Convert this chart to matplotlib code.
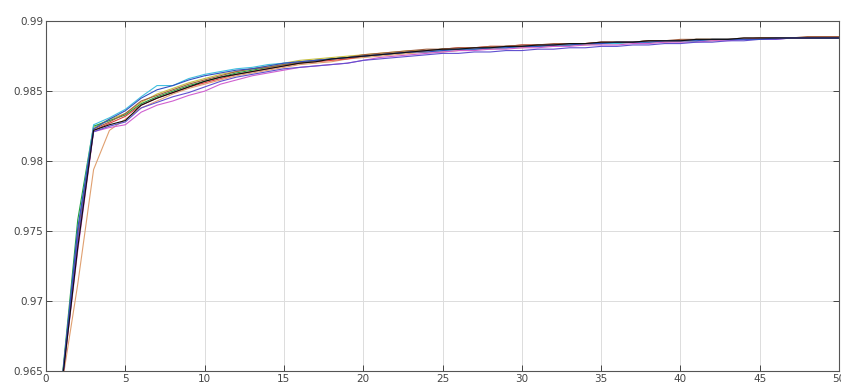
import numpy as np
import matplotlib.pyplot as plt

# accuracy per run, iteration 1..50
run_blue = [0.9641, 0.9752, 0.9823, 0.9830, 0.9836, 0.9845, 0.9851, 0.9854, 0.9858, 0.9861,
            0.9863, 0.9865, 0.9866, 0.9868, 0.9870, 0.9871, 0.9872, 0.9873, 0.9874, 0.9875,
            0.9876, 0.9877, 0.9878, 0.9878, 0.9879, 0.9880, 0.9880, 0.9881, 0.9881, 0.9882,
            0.9882, 0.9883, 0.9883, 0.9884, 0.9884, 0.9885, 0.9885, 0.9885, 0.9886, 0.9886,
            0.9886, 0.9887, 0.9887, 0.9887, 0.9887, 0.9888, 0.9888, 0.9888, 0.9888, 0.9888]
run_green = [0.9643, 0.9758, 0.9825, 0.9829, 0.9833, 0.9841, 0.9846, 0.9850, 0.9854, 0.9857,
             0.9860, 0.9863, 0.9865, 0.9867, 0.9869, 0.9870, 0.9872, 0.9873, 0.9874, 0.9875,
             0.9876, 0.9877, 0.9878, 0.9879, 0.9880, 0.9880, 0.9881, 0.9881, 0.9882, 0.9882,
             0.9883, 0.9883, 0.9884, 0.9884, 0.9884, 0.9885, 0.9885, 0.9886, 0.9886, 0.9886,
             0.9887, 0.9887, 0.9887, 0.9887, 0.9888, 0.9888, 0.9888, 0.9888, 0.9888, 0.9888]
run_red = [0.9640, 0.9740, 0.9822, 0.9827, 0.9832, 0.9840, 0.9845, 0.9849, 0.9853, 0.9856,
           0.9859, 0.9862, 0.9864, 0.9866, 0.9868, 0.9870, 0.9871, 0.9872, 0.9873, 0.9875,
           0.9876, 0.9877, 0.9878, 0.9879, 0.9880, 0.9881, 0.9881, 0.9882, 0.9882, 0.9883,
           0.9883, 0.9883, 0.9884, 0.9884, 0.9885, 0.9885, 0.9885, 0.9886, 0.9886, 0.9886,
           0.9887, 0.9887, 0.9887, 0.9887, 0.9888, 0.9888, 0.9888, 0.9888, 0.9889, 0.9889]
run_cyan = [0.9642, 0.9750, 0.9826, 0.9831, 0.9837, 0.9846, 0.9854, 0.9854, 0.9859, 0.9862,
            0.9864, 0.9866, 0.9867, 0.9869, 0.9870, 0.9871, 0.9872, 0.9873, 0.9874, 0.9875,
            0.9876, 0.9877, 0.9878, 0.9879, 0.9879, 0.9880, 0.9880, 0.9881, 0.9881, 0.9882,
            0.9882, 0.9883, 0.9883, 0.9884, 0.9884, 0.9884, 0.9885, 0.9885, 0.9886, 0.9886,
            0.9886, 0.9887, 0.9887, 0.9887, 0.9887, 0.9888, 0.9888, 0.9888, 0.9888, 0.9888]
run_magenta = [0.9640, 0.9736, 0.9821, 0.9824, 0.9826, 0.9835, 0.9840, 0.9843, 0.9847, 0.9850,
               0.9855, 0.9858, 0.9861, 0.9863, 0.9865, 0.9867, 0.9868, 0.9869, 0.9870, 0.9872,
               0.9874, 0.9875, 0.9876, 0.9877, 0.9878, 0.9879, 0.9879, 0.9880, 0.9880, 0.9881,
               0.9881, 0.9882, 0.9882, 0.9883, 0.9883, 0.9883, 0.9884, 0.9884, 0.9885, 0.9885,
               0.9885, 0.9886, 0.9886, 0.9887, 0.9887, 0.9887, 0.9888, 0.9888, 0.9888, 0.9888]
run_yellow = [0.9641, 0.9745, 0.9824, 0.9830, 0.9834, 0.9842, 0.9848, 0.9852, 0.9856, 0.9859,
              0.9862, 0.9864, 0.9866, 0.9868, 0.9870, 0.9872, 0.9873, 0.9874, 0.9875, 0.9876,
              0.9877, 0.9878, 0.9879, 0.9879, 0.9880, 0.9880, 0.9881, 0.9881, 0.9882, 0.9882,
              0.9883, 0.9883, 0.9883, 0.9884, 0.9884, 0.9885, 0.9885, 0.9885, 0.9886, 0.9886,
              0.9886, 0.9887, 0.9887, 0.9887, 0.9887, 0.9888, 0.9888, 0.9888, 0.9888, 0.9888]
run_black = [0.9640, 0.9738, 0.9822, 0.9826, 0.9829, 0.9840, 0.9845, 0.9849, 0.9853, 0.9857,
             0.9860, 0.9862, 0.9864, 0.9866, 0.9868, 0.9870, 0.9871, 0.9873, 0.9874, 0.9875,
             0.9876, 0.9877, 0.9878, 0.9879, 0.9880, 0.9880, 0.9881, 0.9881, 0.9882, 0.9882,
             0.9883, 0.9883, 0.9884, 0.9884, 0.9885, 0.9885, 0.9885, 0.9886, 0.9886, 0.9886,
             0.9887, 0.9887, 0.9887, 0.9888, 0.9888, 0.9888, 0.9888, 0.9888, 0.9888, 0.9888]
run_orange = [0.9640, 0.9712, 0.9794, 0.9822, 0.9830, 0.9838, 0.9843, 0.9848, 0.9852, 0.9855,
              0.9858, 0.9861, 0.9863, 0.9865, 0.9867, 0.9869, 0.9870, 0.9871, 0.9873, 0.9874,
              0.9875, 0.9876, 0.9877, 0.9878, 0.9878, 0.9879, 0.9880, 0.9880, 0.9881, 0.9881,
              0.9882, 0.9882, 0.9883, 0.9883, 0.9884, 0.9884, 0.9885, 0.9885, 0.9885, 0.9886,
              0.9886, 0.9886, 0.9887, 0.9887, 0.9887, 0.9888, 0.9888, 0.9888, 0.9888, 0.9888]
run_purple = [0.9641, 0.9744, 0.9821, 0.9825, 0.9828, 0.9838, 0.9842, 0.9846, 0.9849, 0.9853,
              0.9857, 0.9860, 0.9862, 0.9864, 0.9866, 0.9867, 0.9868, 0.9869, 0.9870, 0.9872,
              0.9873, 0.9874, 0.9875, 0.9876, 0.9877, 0.9877, 0.9878, 0.9878, 0.9879, 0.9879,
              0.9880, 0.9880, 0.9881, 0.9881, 0.9882, 0.9882, 0.9883, 0.9883, 0.9884, 0.9884,
              0.9885, 0.9885, 0.9886, 0.9886, 0.9887, 0.9887, 0.9888, 0.9888, 0.9888, 0.9888]
run_brown = [0.9642, 0.9748, 0.9823, 0.9828, 0.9834, 0.9843, 0.9847, 0.9851, 0.9855, 0.9858,
             0.9861, 0.9864, 0.9866, 0.9867, 0.9869, 0.9871, 0.9872, 0.9873, 0.9874, 0.9876,
             0.9877, 0.9878, 0.9879, 0.9880, 0.9880, 0.9881, 0.9881, 0.9882, 0.9882, 0.9883,
             0.9883, 0.9884, 0.9884, 0.9884, 0.9885, 0.9885, 0.9885, 0.9886, 0.9886, 0.9887,
             0.9887, 0.9887, 0.9887, 0.9888, 0.9888, 0.9888, 0.9888, 0.9889, 0.9889, 0.9889]

runs = [run_orange, run_yellow, run_green, run_cyan, run_red, run_brown,
        run_magenta, run_purple, run_blue, run_black]
colors = ["#e0a070", "#c8c040", "#20a040", "#40c0e0", "#e04040", "#a06040",
          "#d060d0", "#6050d0", "#3050c0", "#101010"]

x_ticks = [0, 5, 10, 15, 20, 25, 30, 35, 40, 45, 50]
y_ticks = [0.965, 0.97, 0.975, 0.98, 0.985, 0.99]
y_labels = ["0.965", "0.97", "0.975", "0.98", "0.985", "0.99"]

fig = plt.figure(figsize=(8.41, 3.85), dpi=100)
ax = fig.add_axes([0.0547, 0.036, 0.943, 0.909])

for run, c in zip(runs, colors):
    it = np.arange(1, len(run) + 1)
    ax.plot(it, run, color=c, lw=0.8)

ax.set_xlim(0, 50)
ax.set_ylim(0.965, 0.99)
ax.set_xticks(x_ticks)
ax.set_xticklabels([str(t) for t in x_ticks])
ax.set_yticks(y_ticks)
ax.set_yticklabels(y_labels)
ax.grid(True, color="#dcdcdc", lw=0.7)
ax.set_axisbelow(True)
ax.tick_params(direction="in", length=4, width=0.7, top=True, right=True,
               labelsize=7.5, labelcolor="#444444", color="#444444", pad=2)
for s in ax.spines.values():
    s.set_color("#555555")
    s.set_linewidth(0.8)

plt.savefig("out.png", dpi=100)
